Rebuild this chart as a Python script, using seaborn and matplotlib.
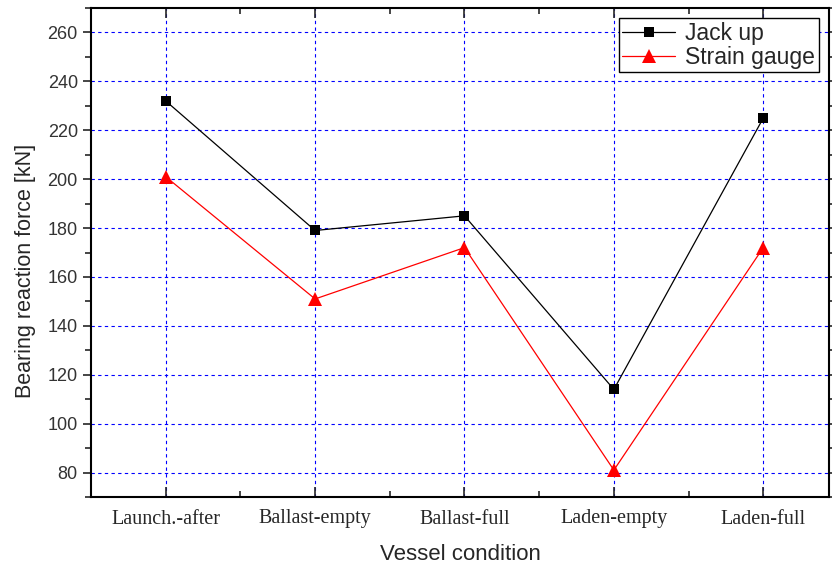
import numpy as np
import pandas as pd
import matplotlib
matplotlib.use("Agg")
import matplotlib.pyplot as plt
from matplotlib.ticker import MultipleLocator
import seaborn as sns

conditions = ["Launch.-after", "Ballast-empty", "Ballast-full", "Laden-empty", "Laden-full"]
jack_up = [232, 179, 185, 114, 225]
strain_gauge = [201, 151, 172, 81, 172]
y_ticks = [80, 100, 120, 140, 160, 180, 200, 220, 240, 260]

sns.set_style("white")
plt.rcParams["font.family"] = ["Liberation Sans", "DejaVu Sans"]

pos = np.arange(len(conditions))
df = pd.DataFrame({
    "pos": np.concatenate([pos, pos]),
    "value": jack_up + strain_gauge,
    "series": ["Jack up"] * len(pos) + ["Strain gauge"] * len(pos),
})

fig = plt.figure(figsize=(8.32, 5.67), dpi=100)
ax = fig.add_axes([91 / 832, 1 - 497 / 567, (829 - 91) / 832, (497 - 8) / 567])

sns.lineplot(data=df[df.series == "Jack up"], x="pos", y="value", ax=ax,
             color="black", lw=0.9, marker="s", markersize=7, markeredgewidth=0,
             label="Jack up", zorder=4)
sns.lineplot(data=df[df.series == "Strain gauge"], x="pos", y="value", ax=ax,
             color="red", lw=0.9, marker="^", markersize=10, markeredgewidth=0,
             label="Strain gauge", zorder=3)

ax.set_xlim(-0.5, 4.44)
ax.set_ylim(70, 270)
ax.set_xticks(pos)
ax.set_xticklabels(conditions, family=["Liberation Serif", "DejaVu Serif"], fontsize=14.5)
ax.set_yticks(y_ticks)
ax.set_yticklabels([str(v) for v in y_ticks], fontsize=13, color="#333333")
ax.xaxis.set_minor_locator(MultipleLocator(0.5))
ax.yaxis.set_minor_locator(MultipleLocator(10))

ax.grid(True, which="major", color="blue", linestyle=(0, (3, 3)), linewidth=0.8)
ax.set_axisbelow(True)

ax.tick_params(axis="x", which="both", direction="in", top=True, bottom=True, pad=9)
ax.tick_params(axis="x", which="major", length=7, width=1.2)
ax.tick_params(axis="x", which="minor", length=4, width=1.2)
ax.tick_params(axis="y", which="both", direction="out", left=True, right=True, width=1.2)
ax.tick_params(axis="y", which="major", length=6)
ax.tick_params(axis="y", which="minor", length=4)

for s in ax.spines.values():
    s.set_linewidth(1.5)
    s.set_color("black")

ax.set_xlabel("Vessel condition", fontsize=16, labelpad=11)
ax.set_ylabel("Bearing reaction force [kN]", fontsize=15.5)
ax.yaxis.set_label_coords(-0.075, 0.463)

leg = ax.legend(loc="upper right", fontsize=16.5, frameon=True, fancybox=False,
                edgecolor="black", framealpha=1, borderpad=0.15, handlelength=2.3,
                handletextpad=0.45, borderaxespad=0.45, labelspacing=0.05)
leg.get_frame().set_linewidth(1.0)

fig.savefig("out.png", dpi=100)
